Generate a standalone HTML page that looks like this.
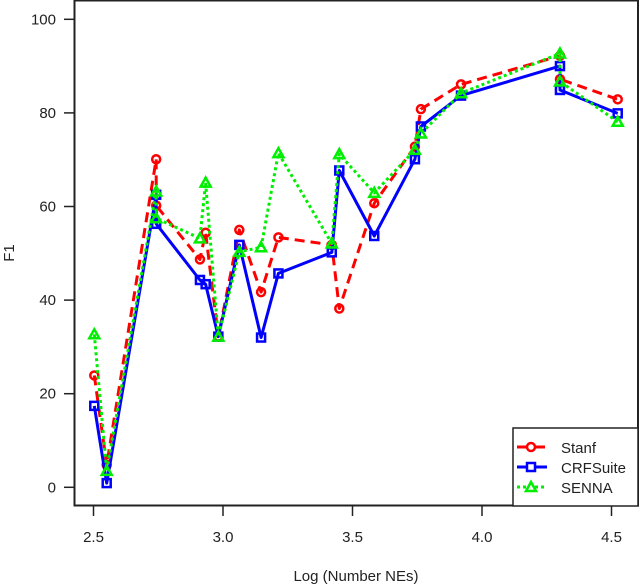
<!DOCTYPE html>
<html><head><meta charset="utf-8"><style>
html,body{margin:0;padding:0;background:#fff}
svg{display:block;font-family:"Liberation Sans",Arial,sans-serif}
</style></head><body>
<svg id="chart" width="640" height="584" viewBox="0 0 640 584" xmlns="http://www.w3.org/2000/svg">
<rect x="74.5" y="0.5" width="563.5" height="505" fill="none" stroke="#222" stroke-width="2"/>
<g id="axes"></g>
<g id="series"></g>
<text x="356" y="581" font-size="15" text-anchor="middle" fill="#222">Log (Number NEs)</text>
<text x="14" y="253" font-size="15" text-anchor="middle" fill="#222" transform="rotate(-90 14 253)">F1</text>
<g>
<rect x="513" y="428" width="125" height="78" fill="#fff" stroke="#222" stroke-width="1.5"/>
<line x1="517" y1="447" x2="545" y2="447" stroke="#f00" stroke-width="3"/>
<circle cx="531" cy="447" r="4" fill="#fff" stroke="#f00" stroke-width="2.5"/>
<text x="561" y="453" font-size="15" fill="#222">Stanf</text>
<line x1="517" y1="467" x2="547" y2="467" stroke="#00f" stroke-width="3"/>
<rect x="527" y="463" width="8" height="8" fill="#fff" stroke="#00f" stroke-width="2.5"/>
<text x="561" y="473" font-size="15" fill="#222">CRFSuite</text>
<line x1="517" y1="487" x2="545" y2="487" stroke="#0e0" stroke-width="3" stroke-dasharray="3,3"/>
<polygon points="531,482 536,491 526,491" fill="#fff" stroke="#0e0" stroke-width="2.5"/>
<text x="561" y="493" font-size="15" fill="#222">SENNA</text>
</g>
</svg>
<script>
const xTicks = [2.5, 3.0, 3.5, 4.0, 4.5];
const xTickLabels = ["2.5", "3.0", "3.5", "4.0", "4.5"];
const yTicks = [0, 20, 40, 60, 80, 100];
const yTickLabels = ["0", "20", "40", "60", "80", "100"];
const stanfX = [2.503, 2.551, 2.742, 2.742, 2.911, 2.933, 2.982, 3.063, 3.147, 3.214, 3.42, 3.449, 3.584, 3.741, 3.764, 3.919, 4.301, 4.301, 4.524];
const stanfY = [23.9, 4.8, 70.1, 60.2, 48.7, 54.4, 32.2, 55, 41.7, 53.4, 51.8, 38.2, 60.7, 72.8, 80.8, 86.1, 92.2, 87.2, 82.9];
const crfX = [2.503, 2.551, 2.742, 2.742, 2.911, 2.933, 2.982, 3.063, 3.147, 3.214, 3.42, 3.449, 3.584, 3.741, 3.764, 3.919, 4.301, 4.301, 4.524];
const crfY = [17.4, 0.9, 62.5, 56.3, 44.3, 43.4, 32.2, 51.8, 32.0, 45.7, 50.2, 67.7, 53.7, 70.1, 77.1, 83.7, 90.0, 84.9, 79.9];
const sennaX = [2.503, 2.551, 2.742, 2.742, 2.911, 2.933, 2.982, 3.063, 3.147, 3.214, 3.42, 3.449, 3.584, 3.741, 3.764, 3.919, 4.301, 4.301, 4.524];
const sennaY = [32.7, 3.5, 63.2, 57.5, 53.2, 65.1, 32.2, 50.3, 51.3, 71.4, 52.1, 71.2, 62.9, 72.1, 75.6, 84.2, 92.7, 86.7, 78.1];

const NS = "http://www.w3.org/2000/svg";
const sx = v => 93.5 + (v - 2.5) * 259;
const sy = v => 487.3 - v * 4.68;
function mk(tag, attrs, parent) {
  const e = document.createElementNS(NS, tag);
  for (const k in attrs) e.setAttribute(k, attrs[k]);
  parent.appendChild(e);
  return e;
}
const axes = document.getElementById("axes");
xTicks.forEach((t, i) => {
  const l = mk("line", {x1: sx(t), x2: sx(t), y1: 506, y2: 516, stroke: "#222", "stroke-width": 1.5}, axes);
  
  
  const tx = mk("text", {x: sx(t), y: 542, "font-size": 15, "text-anchor": "middle", fill: "#222"}, axes);
  tx.textContent = xTickLabels[i];
  
  
});
yTicks.forEach((t, i) => {
  const l = mk("line", {x1: 64, x2: 74, y1: sy(t), y2: sy(t), stroke: "#222", "stroke-width": 1.5}, axes);
  
  
  const tx = mk("text", {x: 56, y: sy(t) + 5, "font-size": 15, "text-anchor": "end", fill: "#222"}, axes);
  tx.textContent = yTickLabels[i];
  
  
});
const sg = document.getElementById("series");
function drawSeries(xs, ys, color, dash, marker, name) {
  const g = mk("g", {}, sg);
  
  
  const pts = xs.map((x, i) => sx(x).toFixed(1) + "," + sy(ys[i]).toFixed(1)).join(" ");
  const pl = mk("polyline", {points: pts, fill: "none", stroke: color, "stroke-width": 3, "stroke-dasharray": dash, "stroke-linejoin": "round"}, g);
  
  
  xs.forEach((x, i) => {
    const cx = sx(x), cy = sy(ys[i]);
    let m;
    if (marker === "circle") m = mk("circle", {cx, cy, r: 4, fill: "none", stroke: color, "stroke-width": 2.5}, g);
    else if (marker === "square") m = mk("rect", {x: cx - 4, y: cy - 4, width: 8, height: 8, fill: "none", stroke: color, "stroke-width": 2.5}, g);
    else m = mk("polygon", {points: `${cx},${cy - 5} ${cx + 5},${cy + 4} ${cx - 5},${cy + 4}`, fill: "none", stroke: color, "stroke-width": 2.5}, g);
    
    
  });
}
drawSeries(stanfX, stanfY, "#f00", "10,6", "circle", "stanf");
drawSeries(crfX, crfY, "#00f", "none", "square", "crfsuite");
drawSeries(sennaX, sennaY, "#0e0", "3,3", "triangle", "senna");
</script>
</body></html>
